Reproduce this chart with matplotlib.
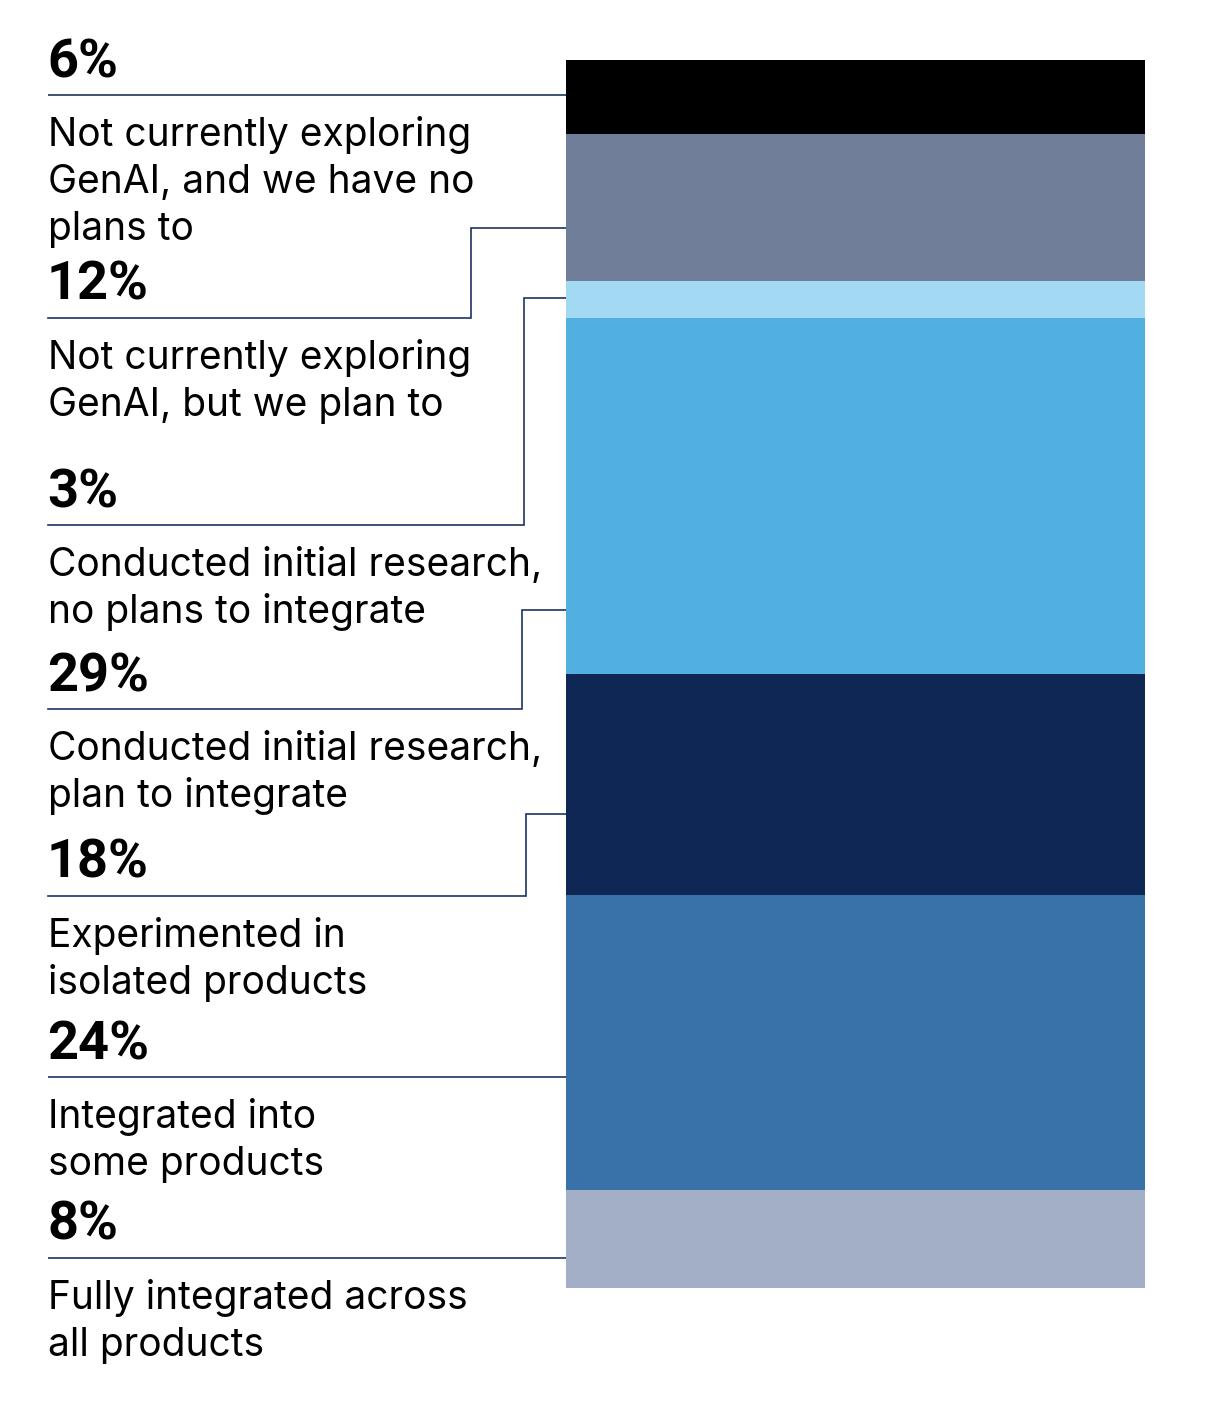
import matplotlib.pyplot as plt

# GenAI adoption stages, top to bottom of the stacked bar
stages = [
    "Not currently exploring\nGenAI, and we have no\nplans to",
    "Not currently exploring\nGenAI, but we plan to",
    "Conducted initial research,\nno plans to integrate",
    "Conducted initial research,\nplan to integrate",
    "Experimented in\nisolated products",
    "Integrated into\nsome products",
    "Fully integrated across\nall products",
]
shares = [6, 12, 3, 29, 18, 24, 8]
colors = ["#000000", "#717e99", "#a3d9f3", "#52b0e0", "#0f2754", "#3872a8", "#a2afc6"]

# label layout (figure pixels, top-down)
rule_y = [95, 318, 525, 709, 896, 1077, 1258]
elbow_x = [None, 471, 524, 522, 526, None, None]
elbow_y = [None, 228, 298, 610, 814, None, None]

W, H = 1212, 1404
LINE = "#1d3461"

fig = plt.figure(figsize=(W / 100, H / 100), dpi=100)

# stacked bar
bar_ax = fig.add_axes([566 / W, 1 - 1288 / H, (1145 - 566) / W, (1288 - 60) / H])
bottom = 0
for val, col in zip(shares, colors):
    bar_ax.bar(0, val, bottom=bottom, width=1, color=col, linewidth=0)
    bottom += val
bar_ax.set_xlim(-0.5, 0.5)
bar_ax.set_ylim(sum(shares), 0)
bar_ax.axis("off")

# overlay for labels and leader lines
ov = fig.add_axes([0, 0, 1, 1], zorder=-1)
ov.set_xlim(0, W)
ov.set_ylim(H, 0)
ov.axis("off")

x0 = 48
for i, (lab, val) in enumerate(zip(stages, shares)):
    y = rule_y[i]
    ov.text(x0 - 1, y - 18, f"{val}%", fontsize=39, fontweight="bold",
            family=["Roboto", "DejaVu Sans"], va="baseline", ha="left", color="black")
    for k, row in enumerate(lab.split("\n")):
        ov.text(x0, y + 51 + 47 * k, row, fontsize=28, family=["Inter", "DejaVu Sans"],
                va="baseline", ha="left", color="black")
    if elbow_x[i] is None:
        ov.plot([x0, 566], [y, y], color=LINE, lw=1.2, solid_capstyle="butt")
    else:
        ov.plot([x0, elbow_x[i], elbow_x[i], 566], [y, y, elbow_y[i], elbow_y[i]],
                color=LINE, lw=1.2, solid_joinstyle="miter")

fig.savefig("out.png", dpi=100)
